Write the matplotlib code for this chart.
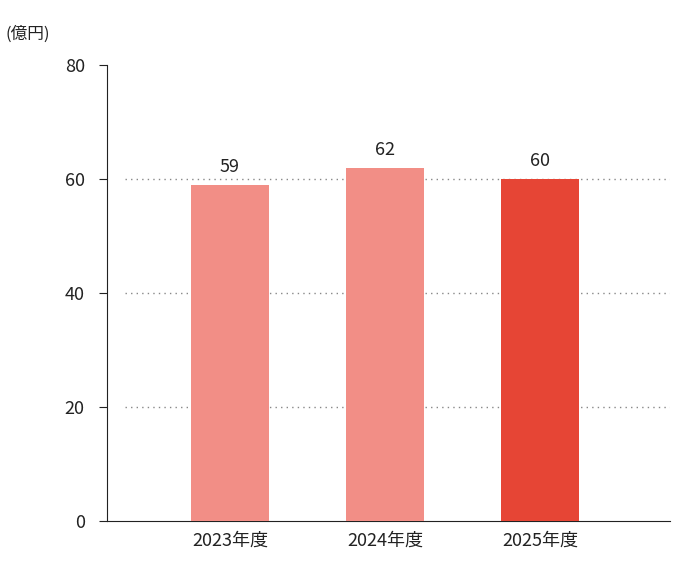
import matplotlib
matplotlib.use("Agg")
import matplotlib.pyplot as plt

plt.rcParams['font.family'] = ['Noto Sans CJK JP', 'DejaVu Sans']

categories = ["2023年度", "2024年度", "2025年度"]
values = [59, 62, 60]
colors = ["#F28E86", "#F28E86", "#E64535"]
yticks = [0, 20, 40, 60, 80]

fig = plt.figure(figsize=(6.74, 5.74), dpi=100)
ax = fig.add_axes([0.1588, 0.0923, 0.835, 0.7945])
x = list(range(len(categories)))
ax.bar(x, values, width=0.5, color=colors, zorder=3)
for xi, v in zip(x, values):
    ax.text(xi, v + 1.5, str(v), ha='center', va='bottom', fontsize=13, color='#222222')
ax.set_xlim(-0.794, 2.839)
ax.set_ylim(0, 80)
for yv in yticks[1:-1]:
    ax.hlines(yv, -0.68, 2.839, colors='#888888', linestyles=(0, (1, 3)), linewidth=1, zorder=1)
ax.set_yticks(yticks)
ax.set_xticks(x)
ax.set_xticklabels(categories)
ax.tick_params(axis='y', length=6, labelsize=13, colors='#222222', pad=10)
ax.tick_params(axis='x', length=0, labelsize=13, colors='#222222', pad=8)
for s in ['top', 'right']:
    ax.spines[s].set_visible(False)
for s in ['left', 'bottom']:
    ax.spines[s].set_color('#222222')
fig.text(0.008, 0.94, "(億円)", fontsize=12, color='#222222', va='center')
fig.savefig("out.png", dpi=100)
